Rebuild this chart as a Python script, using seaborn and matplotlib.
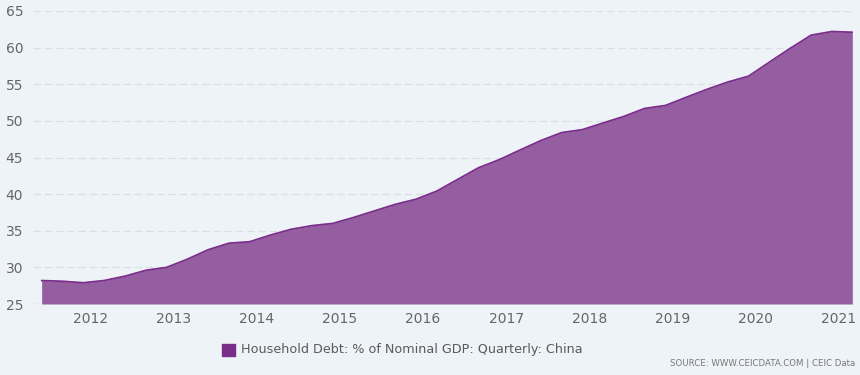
import pandas as pd
import matplotlib
matplotlib.use("Agg")
import matplotlib.pyplot as plt
import matplotlib.dates as mdates
from matplotlib.patches import Rectangle
import seaborn as sns

# Household debt as % of nominal GDP, quarterly
quarters = pd.date_range("2011-06-01", "2021-03-01", freq="3MS")
debt_pct = [28.2, 28.1, 27.9, 28.2, 28.8, 29.6, 30.0, 31.1, 32.4, 33.3,
            33.5, 34.4, 35.2, 35.7, 36.0, 36.8, 37.7, 38.6, 39.3, 40.4,
            42.0, 43.6, 44.7, 46.0, 47.3, 48.4, 48.8, 49.7, 50.6, 51.7,
            52.1, 53.2, 54.3, 55.3, 56.1, 58.0, 59.9, 61.7, 62.2, 62.1]
y_ticks = [25, 30, 35, 40, 45, 50, 55, 60, 65]
year_ticks = list(range(2012, 2022))

df = pd.DataFrame({"date": quarters, "value": debt_pct})

bg = "#eef3f8"
line_col = "#7b2d8b"
fill_col = "#955ea0"

sns.set_style("white")
plt.rcParams["font.family"] = ["DejaVu Sans"]

fig = plt.figure(figsize=(8.6, 3.75), dpi=100, facecolor=bg)
ax = fig.add_axes([33 / 860, 71 / 375, 820 / 860, 293 / 375])
ax.set_facecolor(bg)

ax.fill_between(df["date"], df["value"], 25, color=fill_col, linewidth=0, zorder=2)
sns.lineplot(data=df, x="date", y="value", color=line_col, linewidth=1.3, ax=ax, zorder=3)

ax.set_ylim(25, 65)
ax.set_yticks(y_ticks)
ax.set_xlim(df["date"].iloc[0] - pd.Timedelta(days=38), df["date"].iloc[-1] + pd.Timedelta(days=3))
ax.set_xticks([pd.Timestamp(f"{y}-01-01") for y in year_ticks])
ax.xaxis.set_major_formatter(mdates.DateFormatter("%Y"))

ax.grid(axis="y", color="#d9dfe5", linestyle=(0, (6, 3)), linewidth=0.9, zorder=1)
ax.grid(axis="x", visible=False)
for s in ax.spines.values():
    s.set_visible(False)
ax.axhline(25, color="#d9dfe5", linewidth=1, zorder=1)

ax.tick_params(axis="both", length=0, colors="#666666", labelsize=10)
ax.tick_params(axis="x", pad=6)
ax.tick_params(axis="y", pad=7)
ax.set_xlabel("")
ax.set_ylabel("")

# legend at bottom
fig.patches.append(Rectangle((222 / 860, 1 - 356 / 375), 13 / 860, 12 / 375,
                             transform=fig.transFigure, color=line_col))
fig.text(241 / 860, 1 - 350 / 375, "Household Debt: % of Nominal GDP: Quarterly: China",
         fontsize=9.15, color="#5a5a5a", va="center", ha="left")
fig.text(855 / 860, 1 - 364 / 375, "SOURCE: WWW.CEICDATA.COM | CEIC Data",
         fontsize=6.2, color="#777777", va="center", ha="right")

fig.savefig("out.png", dpi=100, facecolor=bg)
